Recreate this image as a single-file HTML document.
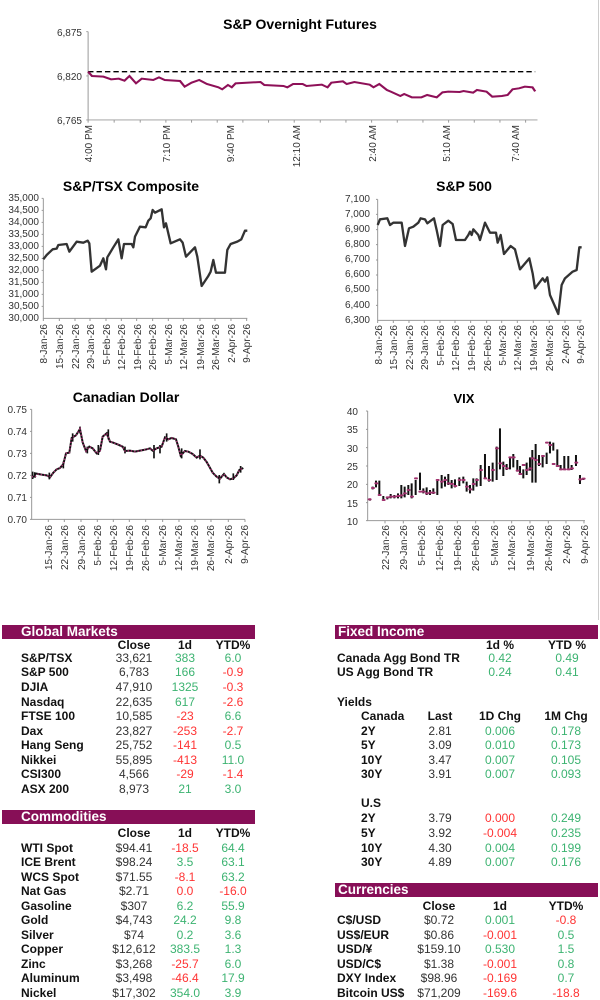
<!DOCTYPE html>
<html><head><meta charset="utf-8"><style>
body{margin:0;background:#fff;width:600px;height:1000px;position:relative;overflow:hidden;font-family:"Liberation Sans",Arial,sans-serif;}
svg{position:absolute;left:0;top:0}
.h{position:absolute;background:#870f57;color:#fff;font-weight:bold;font-size:13.5px;height:14px;line-height:14px;}
.r{position:absolute;height:14px;line-height:14px;font-size:12px;color:#333;}
.r span{position:absolute;top:0;white-space:nowrap}
.n{font-weight:bold;color:#111}
.v{width:70px;text-align:center}
.b{font-weight:bold;color:#111}
.g{color:#3cb371}.d{color:#ff3333}
</style></head><body>
<svg width="600" height="620" font-family="Liberation Sans, Arial, sans-serif">
<line x1="598.5" y1="0" x2="598.5" y2="1000" stroke="#ccc"/>
<!-- Chart 1 -->
<text x="300" y="29" text-anchor="middle" font-weight="bold" font-size="14">S&amp;P Overnight Futures</text>
<g font-size="10" fill="#333" text-anchor="end">
<text x="82" y="36">6,875</text><text x="82" y="80">6,820</text><text x="82" y="124">6,765</text>
</g>
<g transform="scale(0.3831,0.3333)" fill="none">
<path d="M230 95V360H1403" stroke="#999" stroke-width="2.6"/>
<path d="M225 95h5M225 228h5M225 360h5M230 360v8M298 360v8M366 360v8M433 360v8M500 360v8M567 360v8M634 360v8M701 360v8M768 360v8M836 360v8M903 360v8M970 360v8M1037 360v8M1104 360v8M1171 360v8M1238 360v8M1305 360v8M1372 360v8" stroke="#999" stroke-width="2.6"/>
<path d="M230 215H1397" stroke="#000" stroke-width="4" stroke-dasharray="14 8"/>
<polyline stroke="#8e1058" stroke-width="6" points="230,215 240,228 270,230 290,238 310,236 325,242 338,228 355,250 370,236 400,240 415,232 430,240 470,243 482,260 500,248 520,240 540,252 570,262 580,268 595,255 605,262 615,250 680,246 690,255 740,258 750,262 765,252 790,252 800,258 840,254 855,262 865,248 895,244 905,252 925,246 965,254 975,262 990,252 1010,270 1020,275 1045,288 1055,282 1075,292 1100,292 1115,285 1140,292 1155,277 1170,275 1200,276 1210,273 1235,278 1245,270 1270,275 1285,290 1310,288 1325,285 1338,268 1355,265 1370,260 1390,262 1397,274"/>
</g>
<g font-size="10" fill="#333" text-anchor="end">
<text transform="translate(92,125) rotate(-90)">4:00 PM</text>
<text transform="translate(170,125) rotate(-90)">7:10 PM</text>
<text transform="translate(234,125) rotate(-90)">9:40 PM</text>
<text transform="translate(300,125) rotate(-90)">12:10 AM</text>
<text transform="translate(376,125) rotate(-90)">2:40 AM</text>
<text transform="translate(450,125) rotate(-90)">5:10 AM</text>
<text transform="translate(519,125) rotate(-90)">7:40 AM</text>
</g>
<!-- TSX -->
<text x="131" y="191" text-anchor="middle" font-weight="bold" font-size="14">S&amp;P/TSX Composite</text>
<g font-size="10" fill="#333" text-anchor="end">
<text x="39" y="201">35,000</text><text x="39" y="213">34,500</text><text x="39" y="225">34,000</text><text x="39" y="237">33,500</text><text x="39" y="249">33,000</text><text x="39" y="261">32,500</text><text x="39" y="273">32,000</text><text x="39" y="285">31,500</text><text x="39" y="297">31,000</text><text x="39" y="309">30,500</text><text x="39" y="321">30,000</text>
</g>
<g transform="translate(0,170) scale(0.3333)" fill="none">
<path d="M130 85V445H742" stroke="#999" stroke-width="3"/>
<path d="M125 85h5M125 121h5M125 157h5M125 193h5M125 229h5M125 265h5M125 301h5M125 337h5M125 373h5M125 409h5M130 445v8M178 445v8M225 445v8M270 445v8M318 445v8M364 445v8M410 445v8M458 445v8M505 445v8M550 445v8M600 445v8M645 445v8M693 445v8M740 445v8" stroke="#999" stroke-width="3"/>
<polyline stroke="#333" stroke-width="7" stroke-linejoin="round" points="130,268 140,255 158,238 170,236 175,225 200,222 208,245 230,215 250,218 263,212 268,220 275,305 300,287 310,265 318,298 322,262 340,232 355,208 365,265 372,222 395,222 400,232 405,200 420,170 437,172 445,152 452,145 458,120 465,128 485,118 492,172 498,160 512,220 540,208 548,218 558,260 585,232 592,260 605,348 625,318 632,305 640,270 648,308 675,308 682,240 692,222 712,215 724,208 735,182 742,182"/>
</g>
<g font-size="10" fill="#333" text-anchor="end">
<text transform="translate(47,324) rotate(-90)">8-Jan-26</text><text transform="translate(63,324) rotate(-90)">15-Jan-26</text><text transform="translate(79,324) rotate(-90)">22-Jan-26</text><text transform="translate(94,324) rotate(-90)">29-Jan-26</text><text transform="translate(110,324) rotate(-90)">5-Feb-26</text><text transform="translate(125,324) rotate(-90)">12-Feb-26</text><text transform="translate(141,324) rotate(-90)">19-Feb-26</text><text transform="translate(156,324) rotate(-90)">26-Feb-26</text><text transform="translate(172,324) rotate(-90)">5-Mar-26</text><text transform="translate(187,324) rotate(-90)">12-Mar-26</text><text transform="translate(204,324) rotate(-90)">19-Mar-26</text><text transform="translate(219,324) rotate(-90)">26-Mar-26</text><text transform="translate(235,324) rotate(-90)">2-Apr-26</text><text transform="translate(250,324) rotate(-90)">9-Apr-26</text>
</g>
<!-- S&P 500 -->
<text x="464" y="191" text-anchor="middle" font-weight="bold" font-size="14">S&amp;P 500</text>
<g font-size="10" fill="#333" text-anchor="end">
<text x="370" y="202">7,100</text><text x="370" y="217">7,000</text><text x="370" y="232">6,900</text><text x="370" y="247">6,800</text><text x="370" y="262">6,700</text><text x="370" y="277">6,600</text><text x="370" y="292">6,500</text><text x="370" y="308">6,400</text><text x="370" y="323">6,300</text>
</g>
<g transform="translate(300,170) scale(0.3333)" fill="none">
<path d="M233 88V451H845" stroke="#999" stroke-width="3"/>
<path d="M228 88h5M228 133h5M228 179h5M228 224h5M228 270h5M228 315h5M228 360h5M228 406h5M233 451v8M280 451v8M327 451v8M373 451v8M420 451v8M465 451v8M512 451v8M560 451v8M605 451v8M652 451v8M700 451v8M748 451v8M795 451v8M840 451v8" stroke="#999" stroke-width="3"/>
<polyline stroke="#333" stroke-width="7" stroke-linejoin="round" points="233,165 240,148 262,145 270,165 280,158 305,158 315,228 327,175 340,170 355,158 362,145 375,148 382,160 402,145 410,180 420,228 428,165 445,152 458,162 468,210 495,210 505,195 510,185 515,195 520,178 535,195 540,210 555,158 570,188 588,188 593,218 602,195 612,252 632,228 645,238 660,298 688,265 698,310 705,355 728,325 735,335 742,322 750,375 775,432 785,345 795,325 818,305 830,300 838,232 845,232"/>
</g>
<g font-size="10" fill="#333" text-anchor="end">
<text transform="translate(382,325) rotate(-90)">8-Jan-26</text><text transform="translate(397,325) rotate(-90)">15-Jan-26</text><text transform="translate(413,325) rotate(-90)">22-Jan-26</text><text transform="translate(428,325) rotate(-90)">29-Jan-26</text><text transform="translate(444,325) rotate(-90)">5-Feb-26</text><text transform="translate(459,325) rotate(-90)">12-Feb-26</text><text transform="translate(475,325) rotate(-90)">19-Feb-26</text><text transform="translate(491,325) rotate(-90)">26-Feb-26</text><text transform="translate(506,325) rotate(-90)">5-Mar-26</text><text transform="translate(521,325) rotate(-90)">12-Mar-26</text><text transform="translate(537,325) rotate(-90)">19-Mar-26</text><text transform="translate(553,325) rotate(-90)">26-Mar-26</text><text transform="translate(569,325) rotate(-90)">2-Apr-26</text><text transform="translate(584,325) rotate(-90)">9-Apr-26</text>
</g>
<!-- CAD -->
<text x="126" y="402" text-anchor="middle" font-weight="bold" font-size="14">Canadian Dollar</text>
<g font-size="10" fill="#333" text-anchor="end">
<text x="27" y="413">0.75</text><text x="27" y="435">0.74</text><text x="27" y="457">0.73</text><text x="27" y="479">0.72</text><text x="27" y="501">0.71</text><text x="27" y="523">0.70</text>
</g>
<g transform="translate(0,380) scale(0.3333)" fill="none">
<path d="M95 88V418H735" stroke="#999" stroke-width="3"/>
<path d="M90 88h5M90 154h5M90 220h5M90 286h5M90 352h5M90 418h5M145 418v8M193 418v8M243 418v8M292 418v8M340 418v8M388 418v8M437 418v8M488 418v8M537 418v8M585 418v8M633 418v8M685 418v8M735 418v8" stroke="#999" stroke-width="3"/>
<polyline stroke="#111" stroke-width="6" points="95,290 105,290 105,280 115,282 125,284 140,286 150,292 160,278 170,268 180,264 190,252 198,220 208,218 215,174 228,166 240,147 248,187 258,213 268,200 278,205 290,220 300,212 308,170 320,160 330,185 340,188 355,194 368,200 375,213 390,212 405,215 420,212 430,210 440,208 450,205 458,212 470,205 485,200 495,172 505,178 515,174 528,178 535,200 542,227 555,213 565,215 578,222 590,233 600,227 610,233 620,246 628,260 638,278 650,290 660,296 672,282 680,292 690,298 700,295 710,286 718,270 730,264"/>
<path stroke="#111" stroke-width="5" d="M98 275v22M148 278v20M190 245v20M218 160v25M240 140v20M262 200v20M295 195v30M325 148v30M375 200v20M462 195v40M480 195v25M500 160v25M545 205v30M600 208v30M658 285v25M700 280v20M722 258v20"/>
<polyline stroke="#a0326e" stroke-width="5" stroke-dasharray="4 6" points="95,290 105,290 115,282 125,284 140,286 150,292 160,278 170,268 180,264 190,252 198,220 208,218 215,174 228,166 240,147 248,187 258,213 268,200 278,205 290,220 300,212 308,170 320,160 330,185 340,188 355,194 368,200 375,213 390,212 405,215 420,212 430,210 440,208 450,205 458,212 470,205 485,200 495,172 505,178 515,174 528,178 535,200 542,227 555,213 565,215 578,222 590,233 600,227 610,233 620,246 628,260 638,278 650,290 660,296 672,282 680,292 690,298 700,295 710,286 718,270 730,264"/>
</g>
<g font-size="10" fill="#333" text-anchor="end">
<text transform="translate(52,525) rotate(-90)">15-Jan-26</text><text transform="translate(68,525) rotate(-90)">22-Jan-26</text><text transform="translate(85,525) rotate(-90)">29-Jan-26</text><text transform="translate(101,525) rotate(-90)">5-Feb-26</text><text transform="translate(117,525) rotate(-90)">12-Feb-26</text><text transform="translate(133,525) rotate(-90)">19-Feb-26</text><text transform="translate(149,525) rotate(-90)">26-Feb-26</text><text transform="translate(166,525) rotate(-90)">5-Mar-26</text><text transform="translate(182,525) rotate(-90)">12-Mar-26</text><text transform="translate(198,525) rotate(-90)">19-Mar-26</text><text transform="translate(214,525) rotate(-90)">26-Mar-26</text><text transform="translate(232,525) rotate(-90)">2-Apr-26</text><text transform="translate(248,525) rotate(-90)">9-Apr-26</text>
</g>
<!-- VIX -->
<text x="464" y="403" text-anchor="middle" font-weight="bold" font-size="13">VIX</text>
<g font-size="10" fill="#333" text-anchor="end">
<text x="358" y="415">40</text><text x="358" y="433">35</text><text x="358" y="452">30</text><text x="358" y="470">25</text><text x="358" y="488">20</text><text x="358" y="507">15</text><text x="358" y="525">10</text>
</g>
<g transform="translate(300,380) scale(0.3333)" fill="none">
<path d="M203 93V422H855" stroke="#999" stroke-width="3"/>
<path d="M198 93h5M198 148h5M198 203h5M198 258h5M198 313h5M198 368h5M198 422h5M255 422v8M310 422v8M363 422v8M418 422v8M472 422v8M527 422v8M582 422v8M635 422v8M690 422v8M745 422v8M798 422v8M852 422v8" stroke="#999" stroke-width="3"/>
<path stroke="#111" stroke-width="6" d="M210 355v7M218 320v8M228 302v20M238 302v43M250 348v14M262 350v8M272 342v13M283 345v10M294 340v15M304 315v40M314 320v32M325 315v30M335 310v45M347 300v45M360 278v52M370 325v15M380 322v23M390 330v15M400 325v17M412 298v47M425 285v40M435 290v30M445 282v33M455 300v25M465 298v24M478 292v26M490 290v20M500 305v30M510 315v25M520 295v37M530 295v25M542 255v63M555 222v73M567 258v47M578 248v57M590 200v100M600 145v123M610 245v43M620 252v18M630 230v38M640 222v40M652 240v35M660 258v24M670 268v27M680 248v37M690 232v40M697 210v98M707 192v116M717 225v33M728 230v32M740 218v34M750 185v35M760 188v24M772 208v52M782 255v15M793 228v42M805 228v42M815 255v15M828 225v33M840 285v27M850 295v5"/>
<g stroke="#a0326e" stroke-width="6" stroke-linecap="round">
<path d="M206 358h6M216 324h6M226 310h6M236 345h6M248 360h6M260 352h6M270 350h6M281 350h6M292 348h6M302 346h6M312 340h6M323 330h6M333 350h6M345 295h6M358 335h6M368 335h6M378 340h6M388 338h6M398 338h6M410 300h6M423 305h6M433 300h6M443 310h6M453 312h6M463 318h6M476 300h6M488 300h6M498 320h6M508 328h6M518 312h6M528 300h6M540 270h6M553 295h6M565 300h6M576 270h6M588 205h6M598 250h6M608 258h6M618 265h6M628 232h6M638 232h6M650 272h6M658 282h6M668 255h6M678 270h6M688 265h6M695 235h6M705 240h6M715 252h6M726 228h6M738 188h6M748 195h6M758 252h6M770 258h6M780 268h6M791 268h6M803 268h6M813 265h6M826 248h6M838 298h6M848 296h6"/>
</g>
</g>
<g font-size="10" fill="#333" text-anchor="end">
<text transform="translate(389,525) rotate(-90)">22-Jan-26</text><text transform="translate(407,525) rotate(-90)">29-Jan-26</text><text transform="translate(425,525) rotate(-90)">5-Feb-26</text><text transform="translate(443,525) rotate(-90)">12-Feb-26</text><text transform="translate(461,525) rotate(-90)">19-Feb-26</text><text transform="translate(479,525) rotate(-90)">26-Feb-26</text><text transform="translate(498,525) rotate(-90)">5-Mar-26</text><text transform="translate(515,525) rotate(-90)">12-Mar-26</text><text transform="translate(534,525) rotate(-90)">19-Mar-26</text><text transform="translate(552,525) rotate(-90)">26-Mar-26</text><text transform="translate(570,525) rotate(-90)">2-Apr-26</text><text transform="translate(588,525) rotate(-90)">9-Apr-26</text>
</g>
</svg>

<!-- Global Markets -->
<div class="h" style="left:2px;top:625px;width:253px;padding-left:19px;box-sizing:border-box">Global Markets</div>
<div class="r" style="top:638px;left:0;width:300px"><span class="v b" style="left:99px">Close</span><span class="v b" style="left:150px">1d</span><span class="v b" style="left:198px">YTD%</span></div>
<div class="r" style="top:651px;left:0;width:300px"><span class="n" style="left:21px">S&amp;P/TSX</span><span class="v" style="left:99px">33,621</span><span class="v g" style="left:150px">383</span><span class="v g" style="left:198px">6.0</span></div>
<div class="r" style="top:665px;left:0;width:300px"><span class="n" style="left:21px">S&amp;P 500</span><span class="v" style="left:99px">6,783</span><span class="v g" style="left:150px">166</span><span class="v d" style="left:198px">-0.9</span></div>
<div class="r" style="top:680px;left:0;width:300px"><span class="n" style="left:21px">DJIA</span><span class="v" style="left:99px">47,910</span><span class="v g" style="left:150px">1325</span><span class="v d" style="left:198px">-0.3</span></div>
<div class="r" style="top:695px;left:0;width:300px"><span class="n" style="left:21px">Nasdaq</span><span class="v" style="left:99px">22,635</span><span class="v g" style="left:150px">617</span><span class="v d" style="left:198px">-2.6</span></div>
<div class="r" style="top:709px;left:0;width:300px"><span class="n" style="left:21px">FTSE 100</span><span class="v" style="left:99px">10,585</span><span class="v d" style="left:150px">-23</span><span class="v g" style="left:198px">6.6</span></div>
<div class="r" style="top:724px;left:0;width:300px"><span class="n" style="left:21px">Dax</span><span class="v" style="left:99px">23,827</span><span class="v d" style="left:150px">-253</span><span class="v d" style="left:198px">-2.7</span></div>
<div class="r" style="top:738px;left:0;width:300px"><span class="n" style="left:21px">Hang Seng</span><span class="v" style="left:99px">25,752</span><span class="v d" style="left:150px">-141</span><span class="v g" style="left:198px">0.5</span></div>
<div class="r" style="top:753px;left:0;width:300px"><span class="n" style="left:21px">Nikkei</span><span class="v" style="left:99px">55,895</span><span class="v d" style="left:150px">-413</span><span class="v g" style="left:198px">11.0</span></div>
<div class="r" style="top:767px;left:0;width:300px"><span class="n" style="left:21px">CSI300</span><span class="v" style="left:99px">4,566</span><span class="v d" style="left:150px">-29</span><span class="v d" style="left:198px">-1.4</span></div>
<div class="r" style="top:782px;left:0;width:300px"><span class="n" style="left:21px">ASX 200</span><span class="v" style="left:99px">8,973</span><span class="v g" style="left:150px">21</span><span class="v g" style="left:198px">3.0</span></div>

<!-- Commodities -->
<div class="h" style="left:2px;top:810px;width:253px;padding-left:19px;box-sizing:border-box">Commodities</div>
<div class="r" style="top:826px;left:0;width:300px"><span class="v b" style="left:99px">Close</span><span class="v b" style="left:150px">1d</span><span class="v b" style="left:198px">YTD%</span></div>
<div class="r" style="top:841px;left:0;width:300px"><span class="n" style="left:21px">WTI Spot</span><span class="v" style="left:99px">$94.41</span><span class="v d" style="left:150px">-18.5</span><span class="v g" style="left:198px">64.4</span></div>
<div class="r" style="top:855px;left:0;width:300px"><span class="n" style="left:21px">ICE Brent</span><span class="v" style="left:99px">$98.24</span><span class="v g" style="left:150px">3.5</span><span class="v g" style="left:198px">63.1</span></div>
<div class="r" style="top:870px;left:0;width:300px"><span class="n" style="left:21px">WCS Spot</span><span class="v" style="left:99px">$71.55</span><span class="v d" style="left:150px">-8.1</span><span class="v g" style="left:198px">63.2</span></div>
<div class="r" style="top:884px;left:0;width:300px"><span class="n" style="left:21px">Nat Gas</span><span class="v" style="left:99px">$2.71</span><span class="v d" style="left:150px">0.0</span><span class="v d" style="left:198px">-16.0</span></div>
<div class="r" style="top:899px;left:0;width:300px"><span class="n" style="left:21px">Gasoline</span><span class="v" style="left:99px">$307</span><span class="v g" style="left:150px">6.2</span><span class="v g" style="left:198px">55.9</span></div>
<div class="r" style="top:913px;left:0;width:300px"><span class="n" style="left:21px">Gold</span><span class="v" style="left:99px">$4,743</span><span class="v g" style="left:150px">24.2</span><span class="v g" style="left:198px">9.8</span></div>
<div class="r" style="top:928px;left:0;width:300px"><span class="n" style="left:21px">Silver</span><span class="v" style="left:99px">$74</span><span class="v g" style="left:150px">0.2</span><span class="v g" style="left:198px">3.6</span></div>
<div class="r" style="top:942px;left:0;width:300px"><span class="n" style="left:21px">Copper</span><span class="v" style="left:99px">$12,612</span><span class="v g" style="left:150px">383.5</span><span class="v g" style="left:198px">1.3</span></div>
<div class="r" style="top:957px;left:0;width:300px"><span class="n" style="left:21px">Zinc</span><span class="v" style="left:99px">$3,268</span><span class="v d" style="left:150px">-25.7</span><span class="v g" style="left:198px">6.0</span></div>
<div class="r" style="top:971px;left:0;width:300px"><span class="n" style="left:21px">Aluminum</span><span class="v" style="left:99px">$3,498</span><span class="v d" style="left:150px">-46.4</span><span class="v g" style="left:198px">17.9</span></div>
<div class="r" style="top:986px;left:0;width:300px"><span class="n" style="left:21px">Nickel</span><span class="v" style="left:99px">$17,302</span><span class="v g" style="left:150px">354.0</span><span class="v g" style="left:198px">3.9</span></div>

<!-- Fixed income -->
<div class="h" style="left:335px;top:625px;width:263px;padding-left:3px;box-sizing:border-box">Fixed Income</div>
<div class="r" style="top:638px;left:300px;width:300px"><span class="v b" style="left:165px">1d %</span><span class="v b" style="left:232px">YTD %</span></div>
<div class="r" style="top:651px;left:300px;width:300px"><span class="n" style="left:37px">Canada Agg Bond TR</span><span class="v g" style="left:165px">0.42</span><span class="v g" style="left:232px">0.49</span></div>
<div class="r" style="top:665px;left:300px;width:300px"><span class="n" style="left:37px">US Agg Bond TR</span><span class="v g" style="left:165px">0.24</span><span class="v g" style="left:232px">0.41</span></div>
<div class="r" style="top:695px;left:300px;width:300px"><span class="n" style="left:37px">Yields</span></div>
<div class="r" style="top:709px;left:300px;width:300px"><span class="n" style="left:61px">Canada</span><span class="v b" style="left:105px">Last</span><span class="v b" style="left:165px">1D Chg</span><span class="v b" style="left:231px">1M Chg</span></div>
<div class="r" style="top:724px;left:300px;width:300px"><span class="n" style="left:61px">2Y</span><span class="v" style="left:105px">2.81</span><span class="v g" style="left:165px">0.006</span><span class="v g" style="left:231px">0.178</span></div>
<div class="r" style="top:738px;left:300px;width:300px"><span class="n" style="left:61px">5Y</span><span class="v" style="left:105px">3.09</span><span class="v g" style="left:165px">0.010</span><span class="v g" style="left:231px">0.173</span></div>
<div class="r" style="top:753px;left:300px;width:300px"><span class="n" style="left:61px">10Y</span><span class="v" style="left:105px">3.47</span><span class="v g" style="left:165px">0.007</span><span class="v g" style="left:231px">0.105</span></div>
<div class="r" style="top:767px;left:300px;width:300px"><span class="n" style="left:61px">30Y</span><span class="v" style="left:105px">3.91</span><span class="v g" style="left:165px">0.007</span><span class="v g" style="left:231px">0.093</span></div>
<div class="r" style="top:796px;left:300px;width:300px"><span class="n" style="left:61px">U.S</span></div>
<div class="r" style="top:811px;left:300px;width:300px"><span class="n" style="left:61px">2Y</span><span class="v" style="left:105px">3.79</span><span class="v d" style="left:165px">0.000</span><span class="v g" style="left:231px">0.249</span></div>
<div class="r" style="top:826px;left:300px;width:300px"><span class="n" style="left:61px">5Y</span><span class="v" style="left:105px">3.92</span><span class="v d" style="left:165px">-0.004</span><span class="v g" style="left:231px">0.235</span></div>
<div class="r" style="top:841px;left:300px;width:300px"><span class="n" style="left:61px">10Y</span><span class="v" style="left:105px">4.30</span><span class="v g" style="left:165px">0.004</span><span class="v g" style="left:231px">0.199</span></div>
<div class="r" style="top:855px;left:300px;width:300px"><span class="n" style="left:61px">30Y</span><span class="v" style="left:105px">4.89</span><span class="v g" style="left:165px">0.007</span><span class="v g" style="left:231px">0.176</span></div>

<!-- Currencies -->
<div class="h" style="left:335px;top:883px;width:263px;padding-left:3px;box-sizing:border-box">Currencies</div>
<div class="r" style="top:899px;left:300px;width:300px"><span class="v b" style="left:104px">Close</span><span class="v b" style="left:165px">1d</span><span class="v b" style="left:231px">YTD%</span></div>
<div class="r" style="top:913px;left:300px;width:300px"><span class="n" style="left:37px">C$/USD</span><span class="v" style="left:104px">$0.72</span><span class="v g" style="left:165px">0.001</span><span class="v d" style="left:231px">-0.8</span></div>
<div class="r" style="top:928px;left:300px;width:300px"><span class="n" style="left:37px">US$/EUR</span><span class="v" style="left:104px">$0.86</span><span class="v d" style="left:165px">-0.001</span><span class="v g" style="left:231px">0.5</span></div>
<div class="r" style="top:942px;left:300px;width:300px"><span class="n" style="left:37px">USD/¥</span><span class="v" style="left:104px">$159.10</span><span class="v g" style="left:165px">0.530</span><span class="v g" style="left:231px">1.5</span></div>
<div class="r" style="top:957px;left:300px;width:300px"><span class="n" style="left:37px">USD/C$</span><span class="v" style="left:104px">$1.38</span><span class="v d" style="left:165px">-0.001</span><span class="v g" style="left:231px">0.8</span></div>
<div class="r" style="top:971px;left:300px;width:300px"><span class="n" style="left:37px">DXY Index</span><span class="v" style="left:104px">$98.96</span><span class="v d" style="left:165px">-0.169</span><span class="v g" style="left:231px">0.7</span></div>
<div class="r" style="top:986px;left:300px;width:300px"><span class="n" style="left:37px">Bitcoin US$</span><span class="v" style="left:104px">$71,209</span><span class="v d" style="left:165px">-169.6</span><span class="v d" style="left:231px">-18.8</span></div>
</body></html>
